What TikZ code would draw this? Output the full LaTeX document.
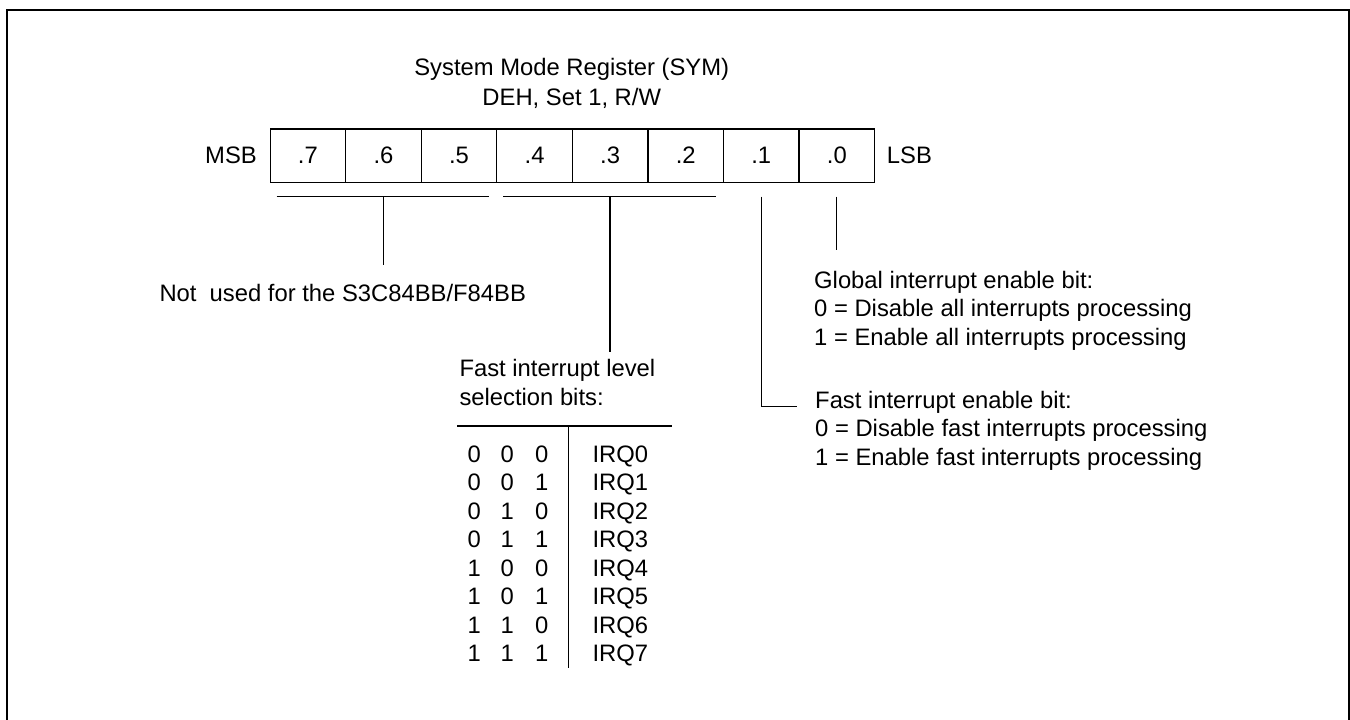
\documentclass[tikz,border=0pt]{standalone}
\usepackage{fontspec}
\setmainfont{Liberation Sans}
\usetikzlibrary{calc}
\begin{document}
\begin{tikzpicture}[x=1pt,y=-1pt,
  txt/.style={inner sep=0pt, font=\fontsize{23.8}{28.3}\selectfont},
  cell/.style={draw, line width=1.2pt, minimum width=75.56pt, minimum height=53.4pt,
    inner sep=0pt, anchor=north west, font=\fontsize{23.8}{28.3}\selectfont},
  wire/.style={line width=1.3pt},
  frame/.style={line width=1.8pt}]
\useasboundingbox (0,0) rectangle (1350,720);
\draw[frame] (7.3,760) -- (7.3,10) -- (1349,10) -- (1349,760);

% title
\node[txt, anchor=base] (title1) at (571.75,75) {System Mode Register (SYM)};
\node[txt, anchor=base] (title2) at (571.75,105) {DEH, Set 1, R/W};

% register cells
\foreach \b [count=\i from 0] in {7,...,0}
  \node[cell] (c\b) at ({269.5+75.5625*\i},128.3) {.\b};
\node[txt, anchor=east] (msb) at (257,155) {MSB};
\node[txt, anchor=west] (lsb) at (886.7,155) {LSB};

% bracket for bits 7..5
\coordinate (b1l) at (276.7,196.7);
\coordinate (b1r) at (489.2,196.7);
\coordinate (b1m) at (c6.south |- b1l);
\coordinate (b1e) at (c6.south |- 0,265);
\draw[wire] (b1l) -- (b1r);
\draw[wire] (b1m) -- (b1e);
\node[txt, anchor=base west] (notused) at (159.3,301.8) {Not\ \ used for the S3C84BB/F84BB};

% bracket for bits 4..2
\coordinate (b2l) at (503.3,196.7);
\coordinate (b2r) at (715.5,196.7);
\coordinate (b2m) at (c3.south |- b2l);
\coordinate (b2e) at (c3.south |- 0,352);
\draw[wire] (b2l) -- (b2r);
\draw[wire] (b2m) -- (b2e);
\node[txt, anchor=base west] (lvl1) at (459.3,376.8) {Fast interrupt level};
\node[txt, anchor=base west] (lvl2) at (459.3,405.2) {selection bits:};

% table
\coordinate (tl) at (457.3,426);
\coordinate (tr) at (671.7,426);
\coordinate (tvt) at (568.3,426);
\coordinate (tvb) at (568.3,668);
\draw[wire] (tl) -- (tr);
\draw[wire] (tvt) -- (tvb);
\foreach \a/\bb/\cc [count=\k from 0] in {0/0/0,0/0/1,0/1/0,0/1/1,1/0/0,1/0/1,1/1/0,1/1/1}{
  \node[txt, anchor=base] (ra\k) at (474.3,{462.5+28.43*\k}) {\a};
  \node[txt, anchor=base] (rb\k) at (507.3,{462.5+28.43*\k}) {\bb};
  \node[txt, anchor=base] (rc\k) at (541.7,{462.5+28.43*\k}) {\cc};
  \node[txt, anchor=base west] (irq\k) at (592.3,{462.5+28.43*\k}) {IRQ\k};
}

% bit 1
\coordinate (f1s) at (c1.south |- 0,196.7);
\coordinate (f1e) at (797.3,406.7);
\draw[wire] (f1s) |- (f1e);
\foreach \t [count=\k from 0] in {Fast interrupt enable bit:,
    0 = Disable fast interrupts processing,
    1 = Enable fast interrupts processing}
  \node[txt, anchor=base west] (fast\k) at (815,{408.5+28.4*\k}) {\t};

% bit 0
\coordinate (g0s) at (c0.south |- 0,196.7);
\coordinate (g0e) at (c0.south |- 0,250);
\draw[wire] (g0s) -- (g0e);
\foreach \t [count=\k from 0] in {Global interrupt enable bit:,
    0 = Disable all interrupts processing,
    1 = Enable all interrupts processing}
  \node[txt, anchor=base west] (glob\k) at (814,{288.5+28.3*\k}) {\t};
\end{tikzpicture}
\end{document}
